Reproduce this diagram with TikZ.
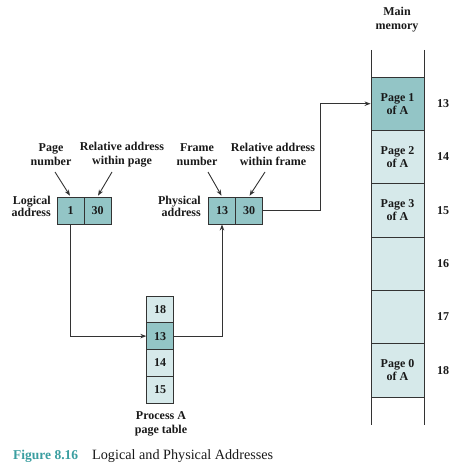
\documentclass[tikz,border=0pt]{standalone}
\usepackage{fontspec}
\setmainfont{Liberation Serif}
\usetikzlibrary{arrows.meta,calc}
\definecolor{dark}{HTML}{93C5C6}
\definecolor{light}{HTML}{D6E9EA}
\definecolor{ln}{HTML}{333333}
\definecolor{capt}{HTML}{3A9EA0}
\begin{document}
\begin{tikzpicture}[x=1pt,y=-1pt,
  lbl/.style={font=\fontsize{12}{14}\selectfont\bfseries, align=center, inner sep=0pt, text=black!90},
  side/.style={font=\fontsize{12}{12}\selectfont\bfseries, align=right, anchor=east, inner sep=0pt, text=black!90},
  cell/.style={draw=ln, line width=0.9pt, minimum width=27pt, minimum height=27pt, inner sep=0pt,
    font=\fontsize{12}{12}\selectfont\bfseries, text=black!90},
  ptcell/.style={cell, minimum width=26.5pt, minimum height=26.75pt},
  mcell/.style={draw=ln, line width=0.9pt, minimum width=53pt, minimum height=53.33pt, inner sep=0pt,
    font=\fontsize{12}{13}\selectfont\bfseries, align=center, text=black!90},
  num/.style={font=\fontsize{12}{12}\selectfont\bfseries, inner sep=0pt, text=black!90},
  arr/.style={draw=ln, line width=0.9pt, -{Stealth[length=6pt,width=4.5pt]}},
]
\useasboundingbox (0,0) rectangle (449,465);

% logical address
\node[cell,fill=dark] (lp) at (70.5,210.5) {1};
\node[cell,fill=dark] (lo) at (97.5,210.5) {30};
% physical address
\node[cell,fill=dark] (pf) at (222,210.5) {13};
\node[cell,fill=dark] (po) at (249,210.5) {30};

% page table
\node[ptcell,fill=light] (pt1) at (160,309.4) {18};
\node[ptcell,fill=dark]  (pt2) at (160,336.1) {13};
\node[ptcell,fill=light] (pt3) at (160,362.9) {14};
\node[ptcell,fill=light] (pt4) at (160,389.6) {15};

% main memory
\draw[ln, line width=0.9pt] (371,50) -- (371,425);
\draw[ln, line width=0.9pt] (424,50) -- (424,425);
\node[mcell,fill=dark]  (m13) at (397.5,103.7) {Page 1\\of A};
\node[mcell,fill=light] (m14) at (397.5,157)   {Page 2\\of A};
\node[mcell,fill=light] (m15) at (397.5,210.3) {Page 3\\of A};
\node[mcell,fill=light] (m16) at (397.5,263.7) {};
\node[mcell,fill=light] (m17) at (397.5,317)   {};
\node[mcell,fill=light] (m18) at (397.5,370.3) {Page 0\\of A};
\node[num] (n13) at (443,103.7) {13};
\node[num] (n14) at (443,157)   {14};
\node[num] (n15) at (443,210.3) {15};
\node[num] (n16) at (443,263.7) {16};
\node[num] (n17) at (443,317)   {17};
\node[num] (n18) at (443,370.3) {18};

% labels
\node[lbl] (pn) at (51,154.5)  {Page\\number};
\node[lbl] (ra) at (122,154.5) {Relative address\\within page};
\node[lbl] (fn) at (197,154.5) {Frame\\number};
\node[lbl] (rf) at (273,154.5) {Relative address\\within frame};
\node[side] (la) at (51,206)  {Logical\\address};
\node[side] (pa) at (201,206) {Physical\\address};
\node[lbl] (mm) at (397,20)  {Main\\memory};
\node[lbl] (pat) at (161,424) {Process A\\page table};

% label arrows
\coordinate (pnA) at (55,172);
\coordinate (raA) at (112,172);
\coordinate (fnA) at (208,172);
\coordinate (rfA) at (265,172);
\draw[arr, shorten >=1pt] (pnA) -- (lp.north);
\draw[arr, shorten >=1pt] (raA) -- (lo.north);
\draw[arr, shorten >=1pt] (fnA) -- (pf.north);
\draw[arr, shorten >=1pt] (rfA) -- (po.north);

% connectors
\draw[arr] (lp.south) |- (pt2.west);
\draw[arr] (pt2.east) -| (pf.south);
\draw[arr] (po.east) -- ++(57,0) |- (m13.west);

% caption
\node[anchor=base west, inner sep=0pt] (cap) at (13,459)
  {\fontsize{13.5}{14}\selectfont\bfseries\color{capt}Figure 8.16\hspace{14pt}\mdseries\color{black!90}\fontsize{14.2}{15}\selectfont Logical and Physical Addresses};
\end{tikzpicture}
\end{document}
